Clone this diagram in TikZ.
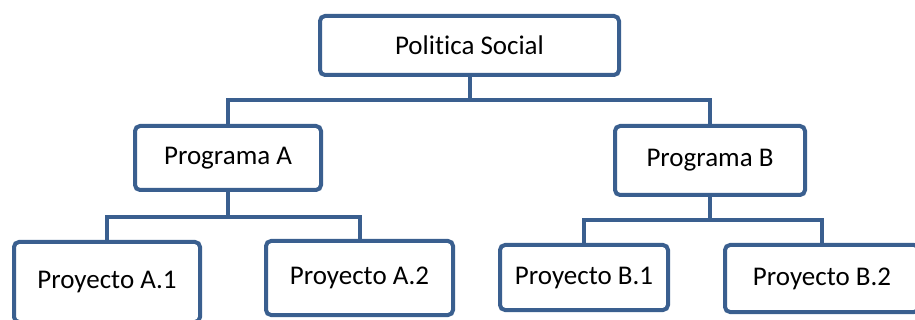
\documentclass[tikz,border=0pt]{standalone}
\usepackage{fontspec}
\setmainfont{Carlito}[Ligatures={NoCommon}]
\definecolor{boxblue}{HTML}{3A5F8F}
\begin{document}
\begin{tikzpicture}[x=1pt,y=-1pt,
  orgbox/.style={draw=boxblue, line width=4pt, rounded corners=5pt, fill=white,
    inner sep=0pt, font=\fontsize{27}{31}\selectfont},
  link/.style={draw=boxblue, line width=4pt}]
\useasboundingbox (0,0) rectangle (915,320);
\begin{scope}
\clip (0,0) rectangle (915,320);
% heights of the three horizontal bus lines
\coordinate (busTop) at (0,100);
\coordinate (busA) at (0,217.5);
\coordinate (busB) at (0,220.5);

% boxes
\node[orgbox, minimum width=299pt, minimum height=59pt] (ps) at (469.5,45.5) {Politica Social};
\node[orgbox, minimum width=186pt, minimum height=64pt] (pa) at (228,158) {Programa A};
\node[orgbox, minimum width=190pt, minimum height=69pt] (pb) at (710,160.5) {Programa B};
\node[orgbox, minimum width=186pt, minimum height=80pt] (a1) at (107,282) {Proyecto A.1};
\node[orgbox, minimum width=187pt, minimum height=74pt] (a2) at (359.5,278) {Proyecto A.2};
\node[orgbox, minimum width=168pt, minimum height=65pt] (b1) at (584,277.5) {Proyecto B.1};
\node[orgbox, minimum width=194pt, minimum height=67pt] (b2) at (822,278.5) {Proyecto B.2};

% connectors
\draw[link] (ps.south) -- (ps.south |- busTop);
\draw[link] (pa.north) |- (pb.north |- busTop) -- (pb.north);
\draw[link] (pa.south) -- (pa.south |- busA);
\draw[link] (a1.north) |- (a2.north |- busA) -- (a2.north);
\draw[link] (pb.south) -- (pb.south |- busB);
\draw[link] (b1.north) |- (b2.north |- busB) -- (b2.north);
\end{scope}
\end{tikzpicture}
\end{document}
